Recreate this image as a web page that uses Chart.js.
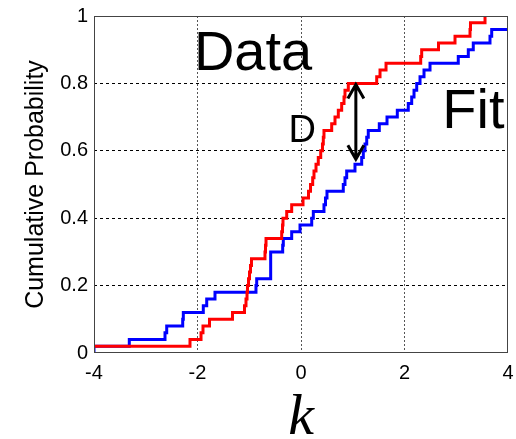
<!DOCTYPE html>
<html>
<head>
<meta charset="utf-8">
<script src="https://cdn.jsdelivr.net/npm/chart.js@4"></script>
<style>
  html, body { margin: 0; padding: 0; background: #fff; }
  #wrap { width: 516px; height: 439px; }
</style>
</head>
<body>
<div id="wrap"><canvas id="cdfChart" width="516" height="439"></canvas></div>
<script>
// empirical CDF of the data (red)
const dataK = [-4, -2.145, -1.932, -1.894, -1.768, -1.324, -1.092, -1.063, -1.043, -1.034,
  -1.014, -0.995, -0.976, -0.957, -0.696, -0.686, -0.676, -0.373, -0.357, -0.348,
  -0.276, -0.180, 0.039, 0.145, 0.184, 0.226, 0.251, 0.290, 0.334, 0.381,
  0.415, 0.431, 0.444, 0.593, 0.657, 0.721, 0.786, 0.831, 0.850, 0.914,
  1.463, 1.527, 1.643, 2.313, 2.332, 2.657, 2.976, 3.266, 3.275, 3.556];
const dataP = [0.02, 0.04, 0.06, 0.08, 0.10, 0.12, 0.14, 0.16, 0.18, 0.20,
  0.22, 0.24, 0.26, 0.28, 0.30, 0.32, 0.34, 0.36, 0.38, 0.40,
  0.42, 0.44, 0.46, 0.48, 0.50, 0.52, 0.54, 0.56, 0.58, 0.60,
  0.62, 0.64, 0.66, 0.68, 0.70, 0.72, 0.74, 0.76, 0.78, 0.80,
  0.82, 0.84, 0.86, 0.88, 0.90, 0.92, 0.94, 0.96, 0.98, 1.00];

// CDF of the fitted model (blue)
const fitK = [-4, -4, -3.318, -2.628, -2.595, -2.286, -2.274, -1.888, -1.822, -1.662,
  -0.870, -0.856, -0.586, -0.354, -0.342, -0.180, -0.019, 0.207, 0.238, 0.444,
  0.473, 0.502, 0.817, 0.850, 0.883, 1.043, 1.173, 1.204, 1.237, 1.270,
  1.300, 1.513, 1.662, 1.861, 2.073, 2.139, 2.184, 2.236, 2.300, 2.377,
  2.493, 3.039, 3.233, 3.329, 3.652, 3.685, 4];
const fitP = [0, 0.02, 0.04, 0.06, 0.08, 0.10, 0.12, 0.14, 0.16, 0.18,
  0.20, 0.22, 0.30, 0.32, 0.34, 0.36, 0.38, 0.40, 0.42, 0.44,
  0.46, 0.48, 0.50, 0.52, 0.54, 0.56, 0.58, 0.60, 0.62, 0.64,
  0.66, 0.68, 0.70, 0.72, 0.74, 0.76, 0.78, 0.80, 0.82, 0.84,
  0.86, 0.88, 0.90, 0.92, 0.94, 0.96, 0.96];

// KS distance D: where it is measured
const gapK = 1.06;
const gapTop = 0.80;
const gapBottom = 0.572;

const xTicks = [-4, -2, 0, 2, 4];
const yTicks = [0, 0.2, 0.4, 0.6, 0.8, 1];
const yTickLabels = ['0', '0.2', '0.4', '0.6', '0.8', '1'];

const sans = '"Liberation Sans", Arial, sans-serif';

const toPoints = (xs, ys) => xs.map((v, i) => ({ x: v, y: ys[i] }));
const hideEdges = (lo, hi, color) => ctx =>
  (ctx.tick && (ctx.tick.value === lo || ctx.tick.value === hi)) ? 'rgba(0,0,0,0)' : color;

// box, text labels and the D arrow
const decorations = {
  id: 'decorations',
  afterDatasetsDraw(chart) {
    const { ctx, chartArea: a, scales: { x, y } } = chart;
    ctx.save();
    ctx.strokeStyle = '#444';
    ctx.lineWidth = 1;
    ctx.strokeRect(a.left + 0.5, a.top + 0.5, a.width - 1, a.height - 1);

    ctx.fillStyle = '#000';
    ctx.textBaseline = 'alphabetic';
    ctx.textAlign = 'left';
    ctx.font = '56px ' + sans;
    ctx.fillText('Data', x.getPixelForValue(-2.07), y.getPixelForValue(0.84));
    ctx.font = '56px ' + sans;
    ctx.fillText('Fit', x.getPixelForValue(2.73), y.getPixelForValue(0.6665));
    ctx.font = '38px ' + sans;
    ctx.fillText('D', x.getPixelForValue(-0.24), y.getPixelForValue(0.627));

    const ax = x.getPixelForValue(gapK);
    const y1 = y.getPixelForValue(gapTop);
    const y2 = y.getPixelForValue(gapBottom);
    ctx.strokeStyle = '#000';
    ctx.lineWidth = 3;
    ctx.beginPath();
    ctx.moveTo(ax, y1 + 1); ctx.lineTo(ax, y2 - 1);
    ctx.moveTo(ax - 8, y1 + 15); ctx.lineTo(ax, y1 + 1); ctx.lineTo(ax + 8, y1 + 15);
    ctx.moveTo(ax - 8, y2 - 15); ctx.lineTo(ax, y2 - 1); ctx.lineTo(ax + 8, y2 - 15);
    ctx.stroke();
    ctx.restore();
  }
};

new Chart(document.getElementById('cdfChart'), {
  type: 'line',
  data: {
    datasets: [
      {
        label: 'Data',
        data: toPoints(dataK, dataP),
        borderColor: '#ff0000',
        borderWidth: 3,
        stepped: 'before',
        pointRadius: 0,
        fill: false
      },
      {
        label: 'Fit',
        data: toPoints(fitK, fitP),
        borderColor: '#0000ff',
        borderWidth: 3,
        stepped: 'before',
        pointRadius: 0,
        fill: false
      }
    ]
  },
  options: {
    responsive: false,
    animation: false,
    layout: { padding: { top: 16, right: 8, left: 0, bottom: 0 } },
    plugins: {
      legend: { display: false },
      tooltip: { enabled: false }
    },
    scales: {
      x: {
        type: 'linear',
        min: -4, max: 4,
        afterBuildTicks: s => { s.ticks = xTicks.map(v => ({ value: v })); },
        afterFit: s => { s.height = 86; s.paddingLeft = 0; s.paddingRight = 0; },
        ticks: { color: '#000', padding: 8, font: { family: sans, size: 20 } },
        grid: { color: hideEdges(-4, 4, '#555'), lineWidth: 1, drawTicks: false },
        border: { display: false, dash: [2, 2] },
        title: {
          display: true, text: 'k', color: '#000',
          font: { family: '"Liberation Serif", "Times New Roman", serif', style: 'italic', size: 58, lineHeight: 0.6 },
          padding: { top: 0, bottom: 3 }
        }
      },
      y: {
        min: 0, max: 1,
        afterBuildTicks: s => { s.ticks = yTicks.map(v => ({ value: v })); },
        afterFit: s => { s.width = 94; s.paddingTop = 0; s.paddingBottom = 0; },
        ticks: {
          color: '#000', padding: 6, font: { family: sans, size: 20 },
          callback: (v, i) => yTickLabels[i]
        },
        grid: { color: hideEdges(0, 1, '#000'), lineWidth: 1, drawTicks: false },
        border: { display: false, dash: [3, 3] },
        title: {
          display: true, text: 'Cumulative Probability', color: '#000',
          font: { family: sans, size: 25 },
          padding: { top: 21, bottom: 0 }
        }
      }
    }
  },
  plugins: [decorations]
});
</script>
</body>
</html>
